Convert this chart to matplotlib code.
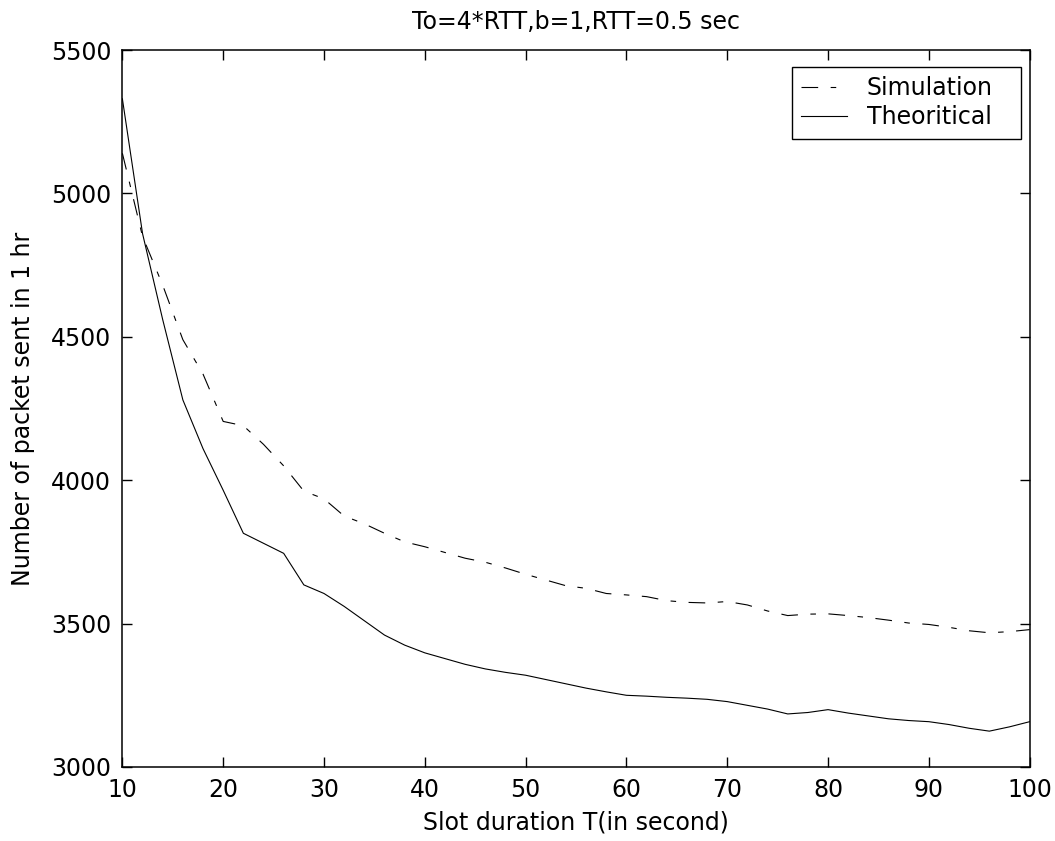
import numpy as np
import matplotlib
matplotlib.use("Agg")
import matplotlib.pyplot as plt

plt.rcParams['font.family'] = ['DejaVu Sans']
plt.rcParams['lines.scale_dashes'] = False

# slot duration T (s)
slot_T = list(range(10, 101, 2))

simulation = [5140, 4850, 4680, 4490, 4370, 4205, 4190, 4125, 4050, 3962,
              3935, 3875, 3848, 3815, 3785, 3768, 3748, 3728, 3714, 3694,
              3672, 3652, 3632, 3623, 3605, 3600, 3594, 3580, 3574, 3572,
              3577, 3565, 3544, 3528, 3533, 3534, 3528, 3521, 3512, 3502,
              3497, 3487, 3475, 3468, 3472, 3479]

theoretical = [5330, 4860, 4560, 4280, 4110, 3965, 3815, 3780, 3745, 3635,
               3605, 3560, 3510, 3460, 3425, 3398, 3378, 3358, 3342, 3330,
               3320, 3305, 3290, 3275, 3262, 3250, 3247, 3243, 3240, 3236,
               3228, 3215, 3202, 3185, 3190, 3200, 3188, 3178, 3168, 3162,
               3158, 3148, 3135, 3125, 3140, 3158]

fs = 17

fig = plt.figure(figsize=(10.55, 8.41), dpi=100)
ax = fig.add_axes([0.116, 0.088, 0.860, 0.8525])

sim_line, = ax.plot(slot_T, simulation, color='black', lw=0.8, label='Simulation')
sim_line.set_dashes([12, 9, 4, 9])
ax.plot(slot_T, theoretical, color='black', lw=0.8, label='Theoritical')

ax.set_xlim(10, 100)
ax.set_ylim(3000, 5500)
ax.set_xticks(range(10, 101, 10))
ax.set_yticks(range(3000, 5501, 500))
ax.tick_params(direction='in', length=7, width=1, top=True, right=True,
               labelsize=fs, pad=8)
for s in ax.spines.values():
    s.set_linewidth(1.1)

ax.set_title('To=4*RTT,b=1,RTT=0.5 sec', fontsize=fs, pad=15)
ax.set_xlabel('Slot duration T(in second)', fontsize=fs, labelpad=6)
ax.set_ylabel('Number of packet sent in 1 hr', fontsize=fs, labelpad=11)

leg = ax.legend(loc='upper left', bbox_to_anchor=(0.738, 0.0, 0.2524, 0.9763),
                mode='expand', borderaxespad=0, fontsize=fs, fancybox=False,
                framealpha=1, edgecolor='black', handlelength=1.95,
                handletextpad=0.82, borderpad=0.4, labelspacing=0.2)
leg.get_frame().set_linewidth(1.0)

fig.savefig('out.png', dpi=100)
